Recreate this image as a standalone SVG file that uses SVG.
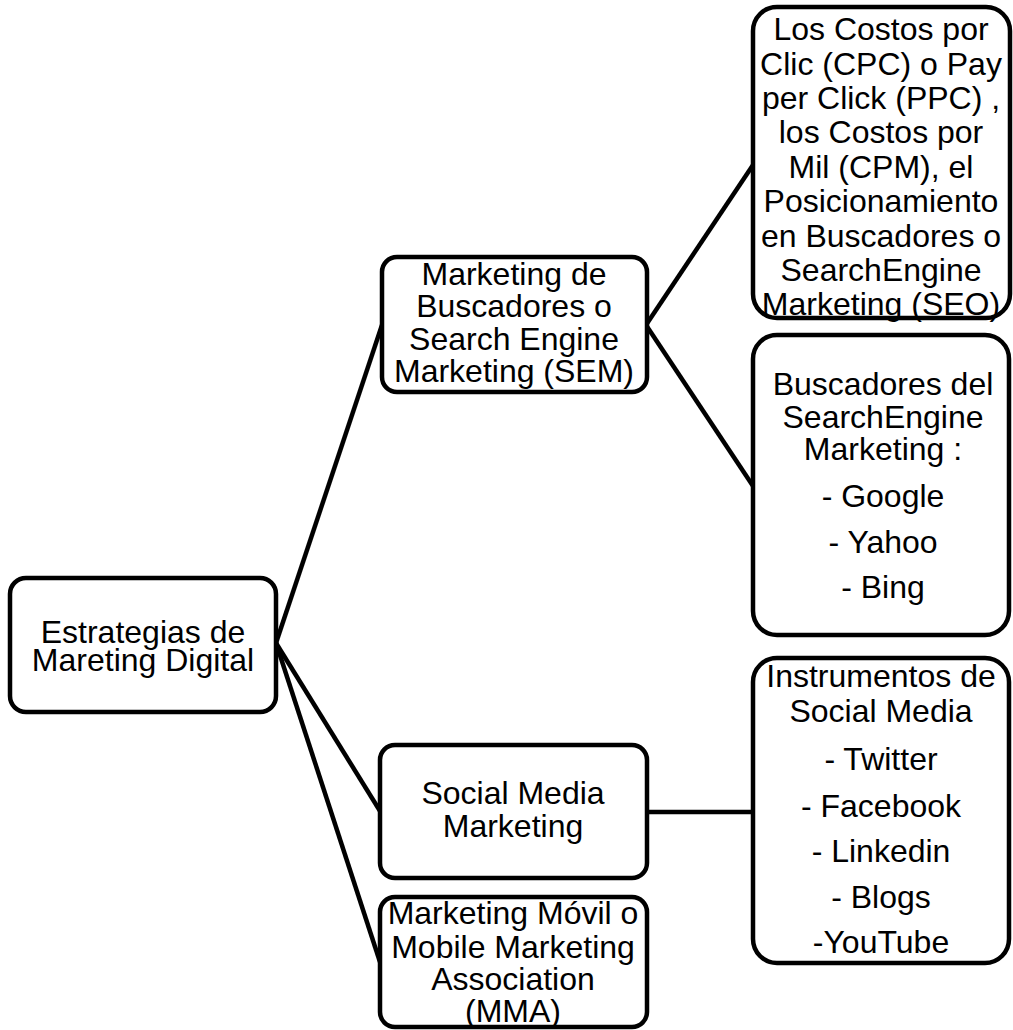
<svg xmlns="http://www.w3.org/2000/svg" width="1013" height="1030" viewBox="0 0 1013 1030">
<style>
.box{fill:#fff;stroke:#000;stroke-width:4.5}
.ln{stroke:#000;stroke-width:4.5;fill:none}
text{font-family:"Liberation Sans",Arial,sans-serif;font-size:32px;fill:#000;text-anchor:middle}
</style>
<rect width="1013" height="1030" fill="#fff"/>
<g id="connectors">
<line class="ln" x1="276" y1="643" x2="382" y2="325"/>
<line class="ln" x1="276" y1="643" x2="380" y2="811"/>
<line class="ln" x1="276" y1="643" x2="380" y2="962"/>
<line class="ln" x1="646" y1="325" x2="753" y2="165"/>
<line class="ln" x1="646" y1="325" x2="753" y2="486"/>
<line class="ln" x1="646" y1="812" x2="753" y2="812"/>
</g>
<g id="root">
<rect class="box" x="10" y="578" width="266" height="134" rx="16"/>
<text x="143" y="643">Estrategias de</text>
<text x="143" y="671">Mareting Digital</text>
</g>
<g id="sem">
<rect class="box" x="382" y="257" width="265" height="135" rx="15"/>
<text x="514" y="285">Marketing de</text>
<text x="514" y="317">Buscadores o</text>
<text x="514" y="350">Search Engine</text>
<text x="514" y="382">Marketing (SEM)</text>
</g>
<g id="smm">
<rect class="box" x="380" y="745" width="267" height="133" rx="15"/>
<text x="513" y="804">Social Media</text>
<text x="513" y="837">Marketing</text>
</g>
<g id="mma">
<rect class="box" x="380" y="897" width="267" height="130" rx="15"/>
<text x="513" y="924">Marketing Móvil o</text>
<text x="513" y="958">Mobile Marketing</text>
<text x="513" y="990">Association</text>
<text x="513" y="1022">(MMA)</text>
</g>
<g id="costos">
<rect class="box" x="753" y="7" width="257" height="311" rx="24"/>
<text x="881" y="40">Los Costos por</text>
<text x="881" y="75">Clic (CPC) o Pay</text>
<text x="881" y="109">per Click (PPC) ,</text>
<text x="881" y="143">los Costos por</text>
<text x="881" y="178">Mil (CPM), el</text>
<text x="881" y="212">Posicionamiento</text>
<text x="881" y="247">en Buscadores o</text>
<text x="881" y="281">SearchEngine</text>
<text x="881" y="315">Marketing (SEO)</text>
</g>
<g id="buscadores">
<rect class="box" x="753" y="335" width="256" height="300" rx="24"/>
<text x="883" y="395">Buscadores del</text>
<text x="883" y="428">SearchEngine</text>
<text x="883" y="460">Marketing :</text>
<text x="883" y="507">- Google</text>
<text x="883" y="553">- Yahoo</text>
<text x="883" y="598">- Bing</text>
</g>
<g id="instrumentos">
<rect class="box" x="753" y="658" width="256" height="305" rx="24"/>
<text x="881" y="687">Instrumentos de</text>
<text x="881" y="722">Social Media</text>
<text x="881" y="770">- Twitter</text>
<text x="881" y="817">- Facebook</text>
<text x="881" y="862">- Linkedin</text>
<text x="881" y="908">- Blogs</text>
<text x="881" y="953">-YouTube</text>
</g>
</svg>
